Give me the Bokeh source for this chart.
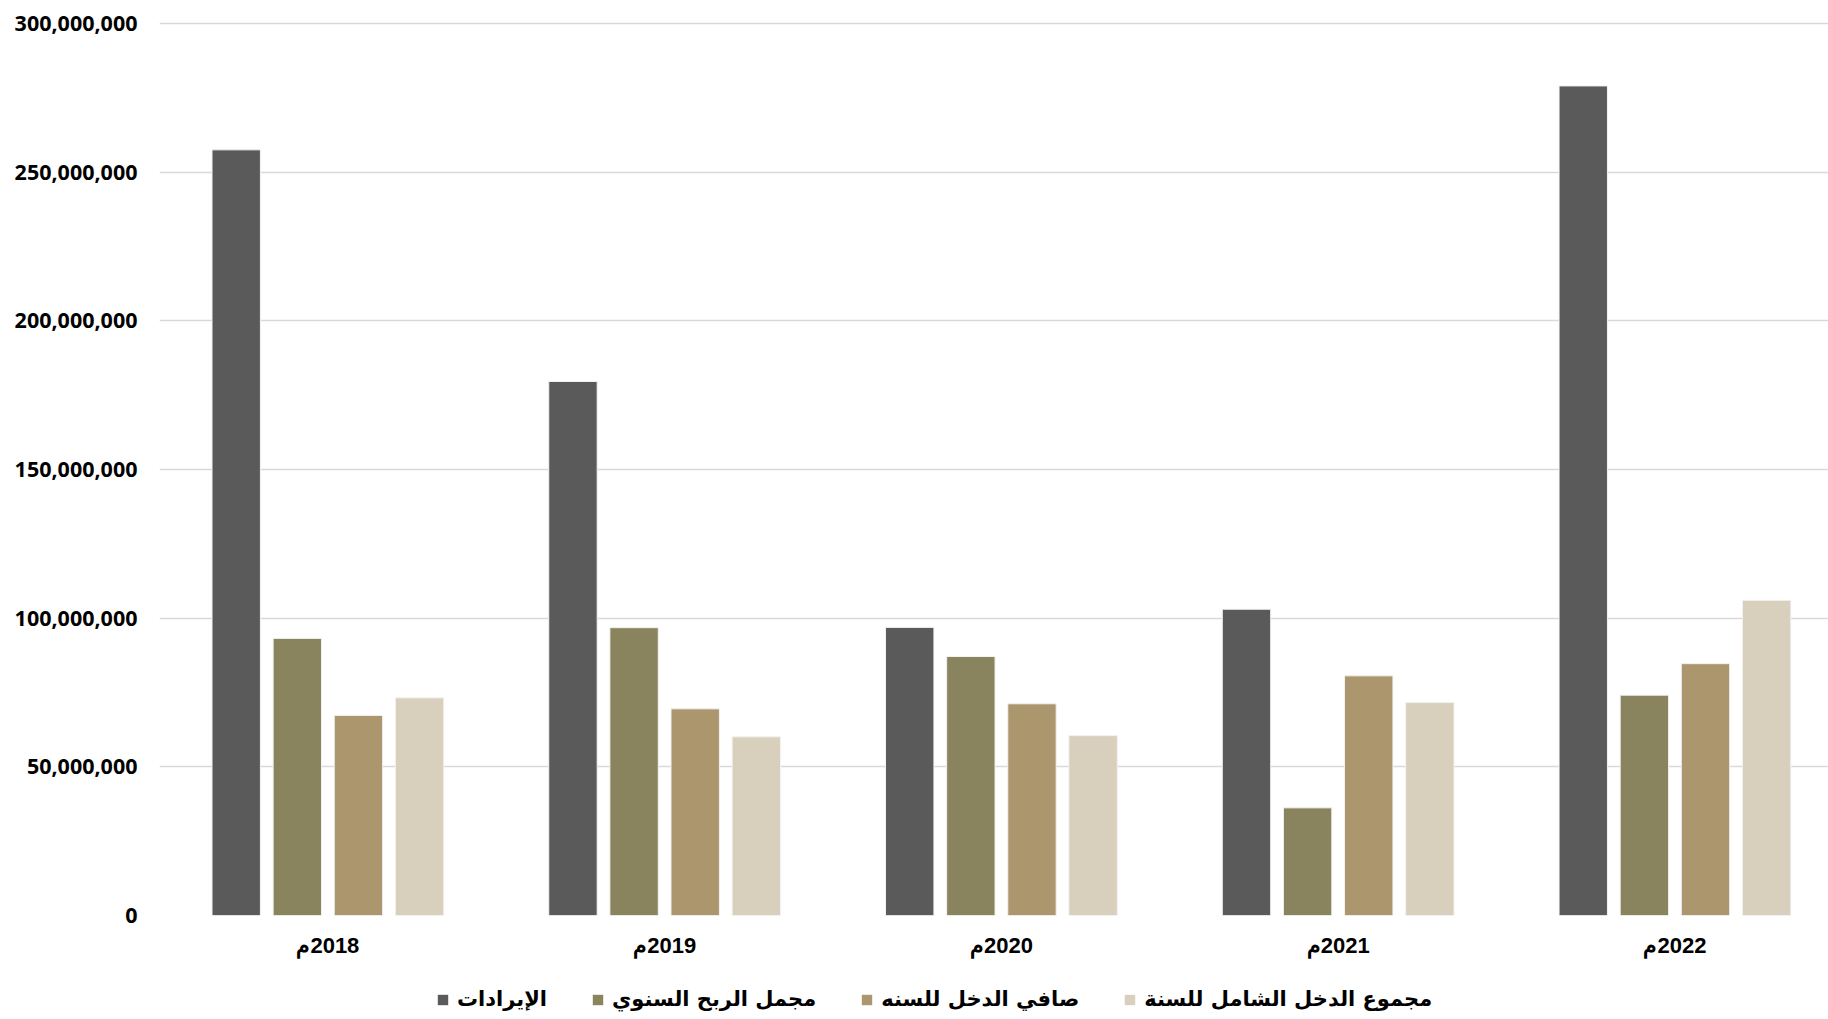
from bokeh.plotting import figure
from bokeh.layouts import column
from bokeh.models import (ColumnDataSource, FixedTicker, NumeralTickFormatter,
                          Range1d, Legend, LegendItem)
from bokeh.transform import dodge
from bokeh.embed import file_html
from bokeh.resources import INLINE

# Fiscal years and the four annual financial series (SAR)
years = ["2018", "2019", "2020", "2021", "2022"]
year_labels = ["\u200f2018م", "\u200f2019م", "\u200f2020م", "\u200f2021م", "\u200f2022م"]

revenue = [257_500_000, 179_600_000, 96_900_000, 103_000_000, 279_000_000]
gross_profit = [93_200_000, 96_800_000, 87_100_000, 36_200_000, 74_100_000]
net_income = [67_300_000, 69_500_000, 71_200_000, 80_600_000, 84_700_000]
comprehensive_income = [73_200_000, 60_100_000, 60_500_000, 71_600_000, 106_000_000]

series_names = ["الإيرادات", "مجمل الربح السنوي", "صافي الدخل للسنه", "مجموع الدخل الشامل للسنة"]
series_colors = ["#5a5a5a", "#8a845e", "#ab966d", "#d8cfbd"]
y_ticks = [0, 50_000_000, 100_000_000, 150_000_000, 200_000_000, 250_000_000, 300_000_000]

centers = [i + 0.5 for i in range(len(years))]
source = ColumnDataSource(dict(
    x=centers,
    revenue=revenue,
    gross_profit=gross_profit,
    net_income=net_income,
    comprehensive_income=comprehensive_income,
))

p = figure(
    width=1828, height=960,
    x_range=Range1d(0, 4.956),
    y_range=Range1d(0, 304_370_000),
    output_backend="svg", toolbar_location=None,
    min_border_left=159, min_border_right=0,
    min_border_top=10, min_border_bottom=44,
)
p.outline_line_color = None
p.background_fill_color = "white"
p.border_fill_color = "white"

pitch = 0.1815
bar_w = 0.1437
fields = ["revenue", "gross_profit", "net_income", "comprehensive_income"]
for k, (field, color) in enumerate(zip(fields, series_colors)):
    offset = (k - 1.5) * pitch
    p.vbar(x=dodge("x", offset), top=field, width=bar_w, bottom=0,
           source=source, fill_color=color, line_color="#f2f2f2",
           line_width=1)

# Axes
p.xaxis.ticker = FixedTicker(ticks=centers)
p.xaxis.major_label_overrides = {c: lab for c, lab in zip(centers, year_labels)}
p.xaxis.major_label_text_font = "Liberation Sans"
p.xaxis.major_label_text_font_style = "bold"
p.xaxis.major_label_text_font_size = "22px"
p.xaxis.major_label_text_color = "black"
p.xaxis.major_label_standoff = 11
p.xaxis.axis_line_color = None
p.xaxis.major_tick_line_color = None
p.xaxis.minor_tick_line_color = None

p.yaxis.ticker = FixedTicker(ticks=y_ticks)
p.yaxis.formatter = NumeralTickFormatter(format="0,0")
p.yaxis.major_label_text_font = "Open Sans"
p.yaxis.major_label_text_font_style = "bold"
p.yaxis.major_label_text_font_size = "21.5px"
p.yaxis.major_label_text_color = "black"
p.yaxis.major_label_standoff = 16
p.yaxis.axis_line_color = None
p.yaxis.major_tick_line_color = None
p.yaxis.minor_tick_line_color = None

p.xgrid.grid_line_color = None
p.ygrid.grid_line_color = "#d9d9d9"
p.ygrid.grid_line_width = 1.6

# Legend strip under the chart; its key renderers are hidden copies of the bars
lg = figure(
    width=1828, height=59, x_range=Range1d(0, 4.956), y_range=Range1d(0, 1),
    output_backend="svg", toolbar_location=None,
    min_border=0, min_border_left=0, min_border_right=0,
    min_border_top=0, min_border_bottom=0,
)
lg.axis.visible = False
lg.grid.visible = False
lg.outline_line_color = None
lg.background_fill_color = "white"
lg.border_fill_color = "white"

keys = []
for k, (field, color) in enumerate(zip(fields, series_colors)):
    r = lg.vbar(x=dodge("x", (k - 1.5) * pitch), top=field, width=bar_w,
                source=source, fill_color=color, line_color=None)
    r.visible = False
    keys.append(r)

items = [LegendItem(label=n, renderers=[r]) for n, r in zip(series_names, keys)]
legend = Legend(
    items=items, orientation="horizontal", location=(277, 8),
    glyph_width=13, glyph_height=13, label_standoff=8, spacing=44,
    padding=0, margin=0, border_line_color=None, background_fill_alpha=0,
    label_text_font="DejaVu Sans", label_text_font_style="bold",
    label_text_font_size="21px", label_text_color="black",
)
lg.add_layout(legend, "center")

layout = column(p, lg, spacing=0)
open("out.html", "w").write(file_html(layout, INLINE))
